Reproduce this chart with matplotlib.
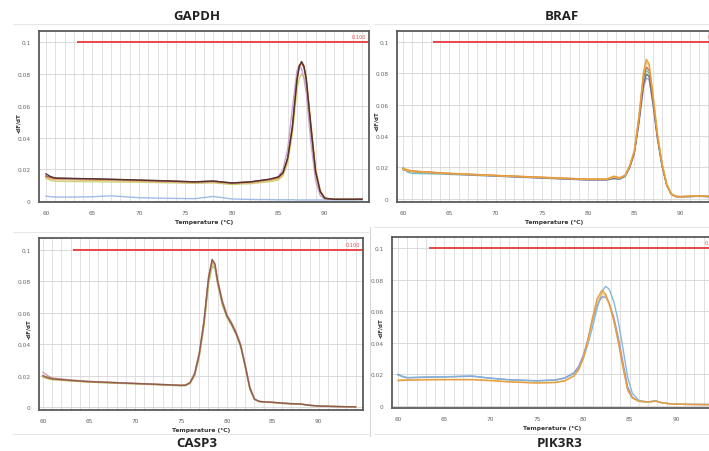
import matplotlib.pyplot as plt
from matplotlib.lines import Line2D
from matplotlib.ticker import MultipleLocator

# ---- data (-dF/dT vs temperature) ----
T_GAPDH = [60, 60.5, 61, 63, 65, 67, 70, 73, 76, 78, 80, 82, 84, 85, 85.5, 86,
           86.5, 87, 87.25, 87.5, 87.75, 88, 88.5, 89, 89.5, 90, 91, 92, 93, 94]
GAPDH_DARK = [0.0172, 0.0155, 0.0146, 0.0143, 0.0141, 0.0138, 0.0133, 0.0128, 0.0122, 0.0127,
              0.0115, 0.0122, 0.0138, 0.0152, 0.018, 0.027, 0.046, 0.076, 0.085, 0.0878, 0.085,
              0.077, 0.047, 0.019, 0.006, 0.0018, 0.0012, 0.0012, 0.0012, 0.0013]
GAPDH_RED = [0.0158, 0.0150, 0.0144, 0.0142, 0.0140, 0.0137, 0.0132, 0.0127, 0.0121, 0.0126,
             0.0114, 0.0121, 0.0137, 0.0150, 0.0178, 0.027, 0.047, 0.077, 0.085, 0.0872, 0.084,
             0.076, 0.046, 0.018, 0.006, 0.0018, 0.0012, 0.0012, 0.0012, 0.0012]
GAPDH_ORANGE = [0.0150, 0.0140, 0.0136, 0.0134, 0.0132, 0.0130, 0.0126, 0.0121, 0.0116, 0.0120,
                0.0110, 0.0116, 0.0130, 0.0142, 0.017, 0.026, 0.045, 0.075, 0.084, 0.0868, 0.085,
                0.078, 0.049, 0.021, 0.007, 0.002, 0.0012, 0.0012, 0.0012, 0.0012]
GAPDH_GREEN = [0.0145, 0.0130, 0.0125, 0.0123, 0.0122, 0.0121, 0.0119, 0.0116, 0.0112, 0.0115,
               0.0105, 0.0110, 0.0122, 0.0133, 0.016, 0.024, 0.042, 0.070, 0.077, 0.080, 0.078,
               0.072, 0.046, 0.020, 0.006, 0.0018, 0.0012, 0.0011, 0.0011, 0.0011]
GAPDH_PINK = [0.0160, 0.0148, 0.0142, 0.0140, 0.0138, 0.0135, 0.0130, 0.0125, 0.0119, 0.0124,
              0.0113, 0.0120, 0.0136, 0.0155, 0.020, 0.033, 0.058, 0.082, 0.0855, 0.083, 0.077,
              0.068, 0.037, 0.013, 0.0035, 0.0014, 0.0011, 0.0011, 0.0011, 0.0012]
GAPDH_BLUE = [0.0032, 0.0028, 0.0026, 0.0026, 0.0028, 0.0034, 0.0022, 0.0018, 0.0016, 0.0030,
              0.0014, 0.0011, 0.0010, 0.0009, 0.0009, 0.0009, 0.0009, 0.0008, 0.0008, 0.0008,
              0.0008, 0.0008, 0.0008, 0.0008, 0.0008, 0.0008, 0.0008, 0.0008, 0.0008, 0.0008]

T_BRAF = [60, 60.5, 61, 63, 65, 70, 75, 80, 82, 82.8, 83.4, 84, 84.5, 85, 85.5, 86,
          86.3, 86.6, 87, 87.5, 88, 88.5, 89, 89.5, 90, 91, 92, 93.4]
BRAF_ORANGE = [0.0195, 0.0185, 0.0178, 0.0170, 0.0163, 0.0150, 0.0138, 0.0126, 0.0126, 0.0145,
               0.0135, 0.0150, 0.021, 0.030, 0.052, 0.081, 0.089, 0.086, 0.067, 0.041,
               0.022, 0.009, 0.003, 0.0015, 0.0014, 0.0016, 0.0018, 0.0015]
BRAF_YELLOW = [0.0190, 0.0180, 0.0175, 0.0168, 0.0161, 0.0148, 0.0136, 0.0124, 0.0124, 0.0138,
               0.0132, 0.0148, 0.021, 0.031, 0.053, 0.080, 0.087, 0.085, 0.068, 0.042,
               0.023, 0.010, 0.0035, 0.0016, 0.0014, 0.0016, 0.0018, 0.0015]
BRAF_BROWN = [0.0188, 0.0180, 0.0176, 0.0169, 0.0162, 0.0149, 0.0137, 0.0125, 0.0125, 0.0140,
              0.0133, 0.0148, 0.021, 0.030, 0.051, 0.078, 0.084, 0.082, 0.065, 0.040,
              0.022, 0.009, 0.003, 0.0015, 0.0014, 0.0016, 0.0018, 0.0015]
BRAF_TEAL = [0.0200, 0.0170, 0.0162, 0.0160, 0.0156, 0.0145, 0.0133, 0.0121, 0.0121, 0.0128,
             0.0125, 0.0142, 0.020, 0.030, 0.050, 0.076, 0.082, 0.080, 0.064, 0.040,
             0.022, 0.009, 0.003, 0.0015, 0.0014, 0.0015, 0.0016, 0.0014]
BRAF_PURPLE = [0.0185, 0.0178, 0.0172, 0.0165, 0.0158, 0.0145, 0.0132, 0.0120, 0.0120, 0.0130,
               0.0126, 0.0143, 0.020, 0.029, 0.048, 0.071, 0.077, 0.076, 0.061, 0.038,
               0.021, 0.009, 0.003, 0.0015, 0.0014, 0.0015, 0.0016, 0.0014]
BRAF_GRAY = [0.0190, 0.0182, 0.0176, 0.0168, 0.0160, 0.0147, 0.0134, 0.0122, 0.0122, 0.0132,
             0.0128, 0.0145, 0.020, 0.029, 0.049, 0.073, 0.0795, 0.078, 0.062, 0.039,
             0.021, 0.009, 0.003, 0.0015, 0.0014, 0.0015, 0.0017, 0.0014]

T_CASP3 = [60, 60.5, 61, 63, 65, 70, 73, 75, 75.5, 76, 76.5, 77, 77.5, 78, 78.4, 78.7,
           79, 79.5, 80, 80.5, 81, 81.5, 82, 82.5, 83, 83.5, 84, 85, 86, 87, 88, 89,
           90, 92, 94]
CASP3_GREEN = [0.0190, 0.0180, 0.0174, 0.0166, 0.0158, 0.0147, 0.0140, 0.0135, 0.0136, 0.0150,
               0.020, 0.032, 0.051, 0.078, 0.090, 0.088, 0.078, 0.065, 0.057, 0.052,
               0.046, 0.038, 0.025, 0.011, 0.0048, 0.0034, 0.0031, 0.0028, 0.0023, 0.0020,
               0.0018, 0.0010, 0.0005, 0.0003, 0.0001]
CASP3_ORANGE = [0.0195, 0.0185, 0.0177, 0.0168, 0.0160, 0.0149, 0.0142, 0.0137, 0.0138, 0.0153,
                0.021, 0.033, 0.053, 0.080, 0.092, 0.090, 0.079, 0.066, 0.058, 0.053,
                0.047, 0.039, 0.026, 0.012, 0.0050, 0.0035, 0.0032, 0.0029, 0.0024, 0.0021,
                0.0019, 0.0011, 0.0006, 0.0003, 0.0001]
CASP3_BROWN = [0.0200, 0.0188, 0.0180, 0.0170, 0.0162, 0.0150, 0.0143, 0.0138, 0.0139, 0.0155,
               0.021, 0.034, 0.054, 0.082, 0.094, 0.091, 0.080, 0.067, 0.058, 0.053,
               0.047, 0.039, 0.026, 0.012, 0.0050, 0.0036, 0.0033, 0.0030, 0.0025, 0.0021,
               0.0019, 0.0011, 0.0006, 0.0003, 0.0001]
CASP3_PINK = [0.0222, 0.0200, 0.0185, 0.0172, 0.0163, 0.0151, 0.0144, 0.0139, 0.0140, 0.0157,
              0.022, 0.035, 0.055, 0.083, 0.0935, 0.091, 0.081, 0.068, 0.059, 0.054,
              0.048, 0.040, 0.027, 0.013, 0.0052, 0.0037, 0.0034, 0.0030, 0.0025, 0.0022,
              0.0020, 0.0012, 0.0006, 0.0003, 0.0001]

T_PIK3R3 = [60, 60.5, 61, 63, 65, 68, 70, 72, 75, 77, 78, 79, 79.5, 80, 80.5, 81,
            81.5, 82, 82.4, 82.8, 83.3, 83.8, 84.3, 84.8, 85.3, 86, 87, 87.8, 88.5, 89.5,
            91, 93.9]
PIK3R3_TEAL = [0.0195, 0.0188, 0.0180, 0.0183, 0.0185, 0.0190, 0.0175, 0.0165, 0.0158, 0.0163,
               0.0175, 0.0205, 0.024, 0.030, 0.039, 0.050, 0.062, 0.072, 0.0758, 0.074,
               0.066, 0.053, 0.036, 0.018, 0.008, 0.0035, 0.0025, 0.0032, 0.002, 0.0013,
               0.0010, 0.0009]
PIK3R3_PURPLE = [0.0200, 0.0185, 0.0178, 0.0182, 0.0184, 0.0188, 0.0176, 0.0166, 0.0160, 0.0165,
                 0.0178, 0.021, 0.025, 0.032, 0.042, 0.054, 0.064, 0.069, 0.069, 0.065,
                 0.056, 0.043, 0.027, 0.012, 0.0055, 0.003, 0.0025, 0.0033, 0.002, 0.0013,
                 0.0010, 0.0009]
PIK3R3_YELLOW = [0.0165, 0.0166, 0.0166, 0.0168, 0.0168, 0.0168, 0.0162, 0.0154, 0.0147, 0.0150,
                 0.0160, 0.0192, 0.023, 0.030, 0.041, 0.055, 0.066, 0.0715, 0.070, 0.064,
                 0.054, 0.040, 0.024, 0.010, 0.005, 0.003, 0.0025, 0.003, 0.002, 0.0012,
                 0.0010, 0.0008]
PIK3R3_ORANGE = [0.0160, 0.0162, 0.0163, 0.0165, 0.0166, 0.0166, 0.0160, 0.0152, 0.0145, 0.0148,
                 0.0158, 0.019, 0.023, 0.030, 0.042, 0.056, 0.068, 0.0732, 0.071, 0.065,
                 0.054, 0.040, 0.024, 0.010, 0.005, 0.003, 0.0025, 0.003, 0.002, 0.0012,
                 0.0010, 0.0008]

THRESHOLD = 0.1
Y_TICKS = [0, 0.02, 0.04, 0.06, 0.08, 0.1]
Y_TICK_LABELS = ['0', '0.02', '0.04', '0.06', '0.08', '0.1']
X_TICKS = [60, 65, 70, 75, 80, 85, 90]

W, H = 709, 452
# title, temps, curves, axes rect px (left, top, right, bottom), xlim, ylim,
# title centre px, threshold-label x / alignment, y-label x offset px
panels = [
    ("GAPDH", T_GAPDH,
     [(GAPDH_BLUE, '#9db8e6'), (GAPDH_GREEN, '#c9d67a'), (GAPDH_ORANGE, '#e8a94e'),
      (GAPDH_PINK, '#c9a0cf'), (GAPDH_RED, '#b8524a'), (GAPDH_DARK, '#4a3328')],
     (39, 32, 369, 203), (59.25, 94.75), (-0.0005, 0.107), (197, 16), 94.4, 'right', -18),
    ("BRAF", T_BRAF,
     [(BRAF_TEAL, '#6fc0b0'), (BRAF_PURPLE, '#a99ad6'), (BRAF_GRAY, '#6b6b78'),
      (BRAF_BROWN, '#b66a3c'), (BRAF_YELLOW, '#f0c858'), (BRAF_ORANGE, '#e89a3c')],
     (397, 32, 712, 203), (59.35, 93.4), (-0.002, 0.107), (562, 17), 92.9, 'left', -18),
    ("CASP3", T_CASP3,
     [(CASP3_GREEN, '#a8c46a'), (CASP3_ORANGE, '#e0a050'), (CASP3_PINK, '#cf9aa8'),
      (CASP3_BROWN, '#8a5a48')],
     (39, 239, 363, 411), (59.57, 94.8), (-0.0019, 0.1076), (197, 444), 94.5, 'right', -8),
    ("PIK3R3", T_PIK3R3,
     [(PIK3R3_PURPLE, '#8d86c9'), (PIK3R3_TEAL, '#7fb5d8'), (PIK3R3_YELLOW, '#ecc95a'),
      (PIK3R3_ORANGE, '#e59a45')],
     (392, 238, 712, 409), (59.35, 93.9), (-0.0013, 0.107), (560, 444), 93.1, 'left', -9),
]

fig = plt.figure(figsize=(W / 100, H / 100), dpi=100)
fig.patch.set_facecolor('white')

# light frame lines of the pasted screenshots
for x0, x1, y in [(13, 368, 25), (374, 709, 25), (13, 368, 233), (374, 709, 228),
                  (13, 368, 435), (374, 709, 435)]:
    fig.add_artist(Line2D([x0 / W, x1 / W], [1 - y / H, 1 - y / H], color='#e6e6e6', lw=0.8))
fig.add_artist(Line2D([370 / W, 370 / W], [1 - 228 / H, 1 - 437 / H], color='#d8d8d8', lw=0.8))

for (title, temps, curves, (l, t, r, b), xlim, ylim, (tx, ty),
     lab_x, lab_ha, ylab_dx) in panels:
    ax = fig.add_axes([l / W, 1 - b / H, (r - l) / W, (b - t) / H])
    ax.set_xlim(*xlim)
    ax.set_ylim(*ylim)
    ax.xaxis.set_minor_locator(MultipleLocator(1))
    ax.set_xticks(X_TICKS)
    ax.set_yticks(Y_TICKS)
    ax.set_yticklabels(Y_TICK_LABELS)
    ax.grid(True, which='both', axis='x', color='#dcdcdc', lw=0.6)
    ax.grid(True, which='major', axis='y', color='#d4d4d4', lw=0.6)
    ax.set_axisbelow(True)
    ax.tick_params(which='both', length=0, labelsize=4.2, colors='#666666', pad=6)
    for sp in ax.spines.values():
        sp.set_color('#5a5a5a')
        sp.set_linewidth(1.3)
    if r > W:
        ax.spines['right'].set_visible(False)

    for vals, col in curves:
        ax.plot(temps, vals, color=col, lw=1.0, alpha=0.95)

    ax.plot([63.4, xlim[1] + 1], [THRESHOLD, THRESHOLD], color='#e8454a', lw=1.4)
    ax.text(lab_x, THRESHOLD + 0.002, '0.100', color='#e8454a', fontsize=3.6,
            ha=lab_ha, va='bottom', clip_on=True)

    ax.set_xlabel('Temperature (°C)', fontsize=4.3, fontweight='bold', color='#333333',
                  labelpad=3)
    ax.set_ylabel('-dF/dT', fontsize=4.0, fontweight='bold', color='#333333')
    # the label sits between the 0.04 and 0.06 tick labels
    ax.yaxis.set_label_coords(ylab_dx / (r - l), (0.05 - ylim[0]) / (ylim[1] - ylim[0]))

    fig.text(tx / W, 1 - ty / H, title, fontsize=9.5, fontweight='bold', ha='center',
             va='center', family=['Open Sans', 'DejaVu Sans'], color='#222222')

fig.savefig('out.png', dpi=100, facecolor='white')
